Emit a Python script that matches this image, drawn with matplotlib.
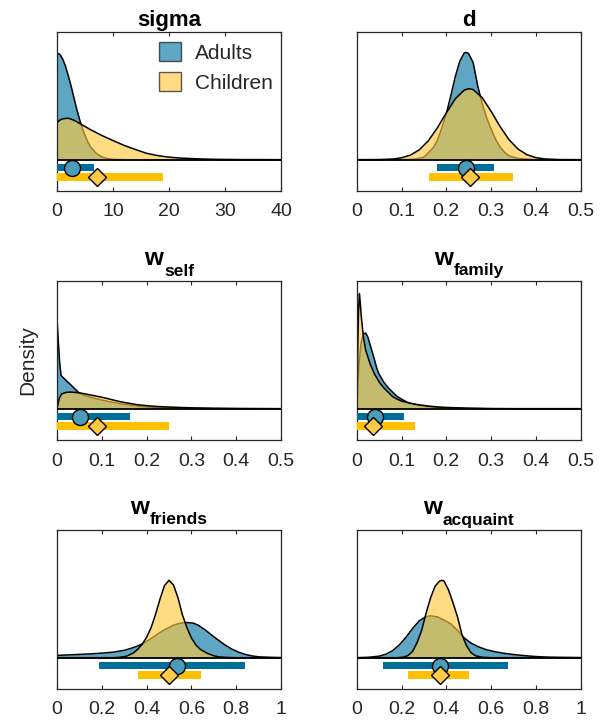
import matplotlib
matplotlib.use('Agg')
import matplotlib.pyplot as plt
from matplotlib.patches import Patch

plt.rcParams['font.family'] = ['Liberation Sans', 'DejaVu Sans']

# ---------------- data ----------------
title_main = ['sigma', 'd', 'w', 'w', 'w', 'w']
title_sub = ['', '', 'self', 'family', 'friends', 'acquaint']
xmaxs = [40, 0.5, 0.5, 0.5, 1.0, 1.0]
xtick_vals = [[0, 10, 20, 30, 40],
              [0, 0.1, 0.2, 0.3, 0.4, 0.5],
              [0, 0.1, 0.2, 0.3, 0.4, 0.5],
              [0, 0.1, 0.2, 0.3, 0.4, 0.5],
              [0, 0.2, 0.4, 0.6, 0.8, 1],
              [0, 0.2, 0.4, 0.6, 0.8, 1]]
xtick_labels = [['0', '10', '20', '30', '40'],
                ['0', '0.1', '0.2', '0.3', '0.4', '0.5'],
                ['0', '0.1', '0.2', '0.3', '0.4', '0.5'],
                ['0', '0.1', '0.2', '0.3', '0.4', '0.5'],
                ['0', '0.2', '0.4', '0.6', '0.8', '1'],
                ['0', '0.2', '0.4', '0.6', '0.8', '1']]

# density curves (scaled heights)
sigma_ad_x = [0, 0.5, 1, 1.5, 2, 2.5, 3, 3.5, 4, 4.5, 5, 5.5, 6, 7, 8, 9, 10, 12, 40]
sigma_ad_y = [0.835, 0.825, 0.79, 0.735, 0.66, 0.58, 0.49, 0.40, 0.32, 0.25, 0.19, 0.14, 0.10,
              0.05, 0.022, 0.009, 0.003, 0.0, 0.0]
sigma_ch_x = [0, 0.5, 1, 2, 3, 4, 5, 6, 8, 10, 12, 14, 16, 18, 20, 22, 25, 28, 32, 40]
sigma_ch_y = [0.29, 0.31, 0.32, 0.325, 0.31, 0.285, 0.26, 0.235, 0.19, 0.15, 0.112, 0.08, 0.05,
              0.032, 0.02, 0.013, 0.007, 0.003, 0.001, 0.0]

d_ad_x = [0, 0.10, 0.13, 0.15, 0.17, 0.18, 0.19, 0.20, 0.21, 0.22, 0.23, 0.24, 0.245, 0.25, 0.26,
          0.27, 0.28, 0.29, 0.30, 0.31, 0.32, 0.33, 0.34, 0.36, 0.40, 0.5]
d_ad_y = [0, 0, 0.005, 0.02, 0.09, 0.15, 0.25, 0.36, 0.50, 0.65, 0.77, 0.835, 0.84, 0.83, 0.76,
          0.58, 0.44, 0.33, 0.24, 0.16, 0.10, 0.058, 0.03, 0.01, 0, 0]
d_ch_x = [0, 0.05, 0.08, 0.10, 0.12, 0.14, 0.16, 0.18, 0.20, 0.22, 0.24, 0.25, 0.26, 0.28, 0.30,
          0.32, 0.34, 0.36, 0.38, 0.40, 0.42, 0.45, 0.5]
d_ch_y = [0, 0.001, 0.005, 0.015, 0.036, 0.078, 0.149, 0.249, 0.367, 0.477, 0.545, 0.556, 0.549,
          0.486, 0.379, 0.26, 0.157, 0.084, 0.039, 0.016, 0.006, 0.001, 0]

wself_ad_x = [0, 0.003, 0.006, 0.009, 0.02, 0.03, 0.04, 0.05, 0.06, 0.08, 0.10, 0.12, 0.14, 0.16,
              0.18, 0.20, 0.22, 0.25, 0.30, 0.35, 0.5]
wself_ad_y = [0.71, 0.52, 0.36, 0.26, 0.222, 0.19, 0.155, 0.122, 0.105, 0.085, 0.068, 0.053, 0.04,
              0.029, 0.02, 0.013, 0.008, 0.004, 0.001, 0, 0]
wself_ch_x = [0, 0.005, 0.01, 0.02, 0.03, 0.04, 0.05, 0.06, 0.08, 0.10, 0.12, 0.14, 0.16, 0.18,
              0.20, 0.22, 0.25, 0.28, 0.30, 0.35, 0.40, 0.45, 0.5]
wself_ch_y = [0, 0.08, 0.115, 0.128, 0.13, 0.128, 0.124, 0.118, 0.104, 0.09, 0.073, 0.056, 0.043,
              0.031, 0.024, 0.018, 0.013, 0.009, 0.007, 0.004, 0.002, 0.001, 0]

wfam_ad_x = [0, 0.005, 0.01, 0.015, 0.02, 0.025, 0.03, 0.035, 0.04, 0.045, 0.05, 0.06, 0.07, 0.08,
             0.09, 0.10, 0.113, 0.13, 0.1425, 0.16, 0.18, 0.20, 0.25, 0.30, 0.5]
wfam_ad_y = [0, 0.35, 0.52, 0.585, 0.593, 0.56, 0.50, 0.44, 0.38, 0.315, 0.27, 0.21, 0.165, 0.13,
             0.097, 0.075, 0.05, 0.033, 0.024, 0.015, 0.008, 0.005, 0.0015, 0, 0]
wfam_ch_x = [0, 0.002, 0.004, 0.006, 0.008, 0.01, 0.015, 0.02, 0.03, 0.04, 0.05, 0.06, 0.07, 0.08,
             0.09, 0.10, 0.12, 0.14, 0.16, 0.18, 0.20, 0.25, 0.30, 0.35, 0.5]
wfam_ch_y = [0, 0.40, 0.75, 0.90, 0.83, 0.73, 0.56, 0.46, 0.35, 0.27, 0.21, 0.165, 0.13, 0.095,
             0.075, 0.06, 0.042, 0.03, 0.021, 0.014, 0.01, 0.004, 0.001, 0, 0]

wfri_ad_x = [0, 0.05, 0.10, 0.15, 0.20, 0.25, 0.30, 0.33, 0.36, 0.38, 0.40, 0.43, 0.46, 0.49, 0.52,
             0.55, 0.58, 0.61, 0.63, 0.66, 0.69, 0.72, 0.75, 0.78, 0.81, 0.84, 0.87, 0.90, 0.95, 1.0]
wfri_ad_y = [0.018, 0.022, 0.026, 0.03, 0.036, 0.043, 0.058, 0.073, 0.092, 0.108, 0.128, 0.162,
             0.198, 0.228, 0.255, 0.27, 0.276, 0.27, 0.255, 0.22, 0.178, 0.138, 0.1, 0.068, 0.044,
             0.026, 0.014, 0.007, 0.003, 0.001]
wfri_ch_x = [0, 0.25, 0.28, 0.31, 0.34, 0.36, 0.38, 0.40, 0.42, 0.44, 0.46, 0.48, 0.50, 0.52, 0.54,
             0.56, 0.58, 0.60, 0.62, 0.64, 0.67, 0.70, 0.72, 0.76, 0.80, 1.0]
wfri_ch_y = [0, 0, 0.003, 0.012, 0.036, 0.065, 0.105, 0.16, 0.235, 0.34, 0.46, 0.565, 0.606, 0.57,
             0.47, 0.335, 0.235, 0.155, 0.1, 0.065, 0.035, 0.015, 0.007, 0.002, 0, 0]

wacq_ad_x = [0, 0.05, 0.10, 0.13, 0.16, 0.19, 0.22, 0.25, 0.28, 0.31, 0.33, 0.36, 0.39, 0.42, 0.45,
             0.48, 0.51, 0.54, 0.58, 0.62, 0.66, 0.70, 0.75, 0.80, 0.85, 0.90, 1.0]
wacq_ad_y = [0, 0.003, 0.012, 0.027, 0.055, 0.1, 0.16, 0.23, 0.29, 0.322, 0.328, 0.32, 0.295,
             0.265, 0.215, 0.155, 0.115, 0.088, 0.062, 0.046, 0.034, 0.025, 0.016, 0.009, 0.005,
             0.003, 0.001]
wacq_ch_x = [0, 0.18, 0.21, 0.23, 0.25, 0.27, 0.29, 0.31, 0.33, 0.35, 0.37, 0.38, 0.39, 0.41, 0.43,
             0.45, 0.47, 0.49, 0.51, 0.53, 0.56, 0.60, 1.0]
wacq_ch_y = [0, 0, 0.005, 0.018, 0.05, 0.12, 0.215, 0.35, 0.47, 0.56, 0.60, 0.606, 0.60, 0.53,
             0.43, 0.32, 0.18, 0.095, 0.04, 0.015, 0.004, 0, 0]

adults_x = [sigma_ad_x, d_ad_x, wself_ad_x, wfam_ad_x, wfri_ad_x, wacq_ad_x]
adults_y = [sigma_ad_y, d_ad_y, wself_ad_y, wfam_ad_y, wfri_ad_y, wacq_ad_y]
children_x = [sigma_ch_x, d_ch_x, wself_ch_x, wfam_ch_x, wfri_ch_x, wacq_ch_x]
children_y = [sigma_ch_y, d_ch_y, wself_ch_y, wfam_ch_y, wfri_ch_y, wacq_ch_y]

# credible intervals and central estimates
adults_lo = [0, 0.18, 0, 0, 0.187, 0.118]
adults_hi = [6.6, 0.307, 0.163, 0.105, 0.839, 0.676]
adults_mid = [2.7, 0.243, 0.052, 0.040, 0.537, 0.370]
children_lo = [0, 0.162, 0, 0, 0.361, 0.23]
children_hi = [19.0, 0.349, 0.25, 0.13, 0.642, 0.501]
children_mid = [7.2, 0.252, 0.090, 0.036, 0.500, 0.370]

groups = ['Adults', 'Children']

# ---------------- styling ----------------
ad_fill = '#0073a0'
ch_fill = '#ffc83c'
fill_alpha = 0.63
ad_bar = '#006e96'
ch_bar = '#ffc000'
ad_marker = '#4a9cba'
ch_marker = '#ffc94a'
axcol = '#262626'

W, H = 608, 724
fig = plt.figure(figsize=(W / 100, H / 100), dpi=100)
left_px = [57, 356.7]
top_px = [32, 281, 530]
aw_px, ah_px = 224, 159

axes = []
for i in range(6):
    r, c = divmod(i, 2)
    ax = fig.add_axes([left_px[c] / W, 1 - (top_px[r] + ah_px) / H, aw_px / W, ah_px / H])
    axes.append(ax)
    ax.fill_between(adults_x[i], adults_y[i], 0, color=ad_fill, alpha=fill_alpha, lw=0, zorder=1)
    ax.plot(adults_x[i], adults_y[i], color='k', lw=1.1, zorder=1.5)
    ax.fill_between(children_x[i], children_y[i], 0, color=ch_fill, alpha=fill_alpha, lw=0, zorder=2)
    ax.plot(children_x[i], children_y[i], color='k', lw=1.1, zorder=2.5)
    ax.axhline(0, color='k', lw=1.3, zorder=3)

    ax.barh(-0.062, adults_hi[i] - adults_lo[i], left=adults_lo[i], height=0.058,
            color=ad_bar, lw=0, zorder=4)
    ax.barh(-0.134, children_hi[i] - children_lo[i], left=children_lo[i], height=0.058,
            color=ch_bar, lw=0, zorder=4)
    ax.plot([adults_mid[i]], [-0.062], marker='o', ms=11.5, mfc=ad_marker, mec='k', mew=1.0,
            zorder=5, ls='none')
    ax.plot([children_mid[i]], [-0.134], marker='D', ms=9, mfc=ch_marker, mec='k', mew=1.0,
            zorder=6, ls='none')

    ax.set_xlim(0, xmaxs[i])
    ax.set_ylim(-0.245, 1.0)
    ax.set_yticks([])
    ax.set_xticks(xtick_vals[i])
    ax.set_xticklabels(xtick_labels[i])
    ax.tick_params(axis='x', direction='in', top=True, length=3, width=0.8, color=axcol,
                   labelsize=14, pad=9, labelcolor=axcol)
    for s in ax.spines.values():
        s.set_color(axcol)
        s.set_linewidth(0.9)

# titles (main letter + subscript), positioned in pixel coordinates
renderer = fig.canvas.get_renderer()
for i in range(6):
    r, c = divmod(i, 2)
    cx = left_px[c] + aw_px / 2
    if title_sub[i] == '':
        fig.text(cx, H - (top_px[r] - 6), title_main[i], transform=None, ha='center',
                 va='baseline', fontsize=16, fontweight='bold', color='k')
    else:
        t1 = fig.text(0, 0, title_main[i], transform=None, ha='left', va='baseline',
                      fontsize=17.5, fontweight='bold', color='k')
        t2 = fig.text(0, 0, title_sub[i], transform=None, ha='left', va='baseline',
                      fontsize=12.5, fontweight='bold', color='k')
        w1 = t1.get_window_extent(renderer).width
        w2 = t2.get_window_extent(renderer).width
        x0 = cx - (w1 + w2) / 2
        t1.set_position((x0, H - (top_px[r] - 16)))
        t2.set_position((x0 + w1 + 0.5, H - (top_px[r] - 5.5)))

axes[2].set_ylabel('Density', fontsize=15, color=axcol, labelpad=14)

handles = [Patch(facecolor=ad_fill, alpha=fill_alpha, edgecolor='k', lw=1.0),
           Patch(facecolor=ch_fill, alpha=fill_alpha, edgecolor='k', lw=1.0)]
leg = axes[0].legend(handles, groups, loc='upper left', bbox_to_anchor=(0.455, 0.935),
                     frameon=False, fontsize=15, handlelength=1.05, handleheight=1.0,
                     handletextpad=0.7, labelspacing=0.45, borderpad=0, borderaxespad=0)
for t in leg.get_texts():
    t.set_color(axcol)

fig.savefig('out.png', dpi=100)
